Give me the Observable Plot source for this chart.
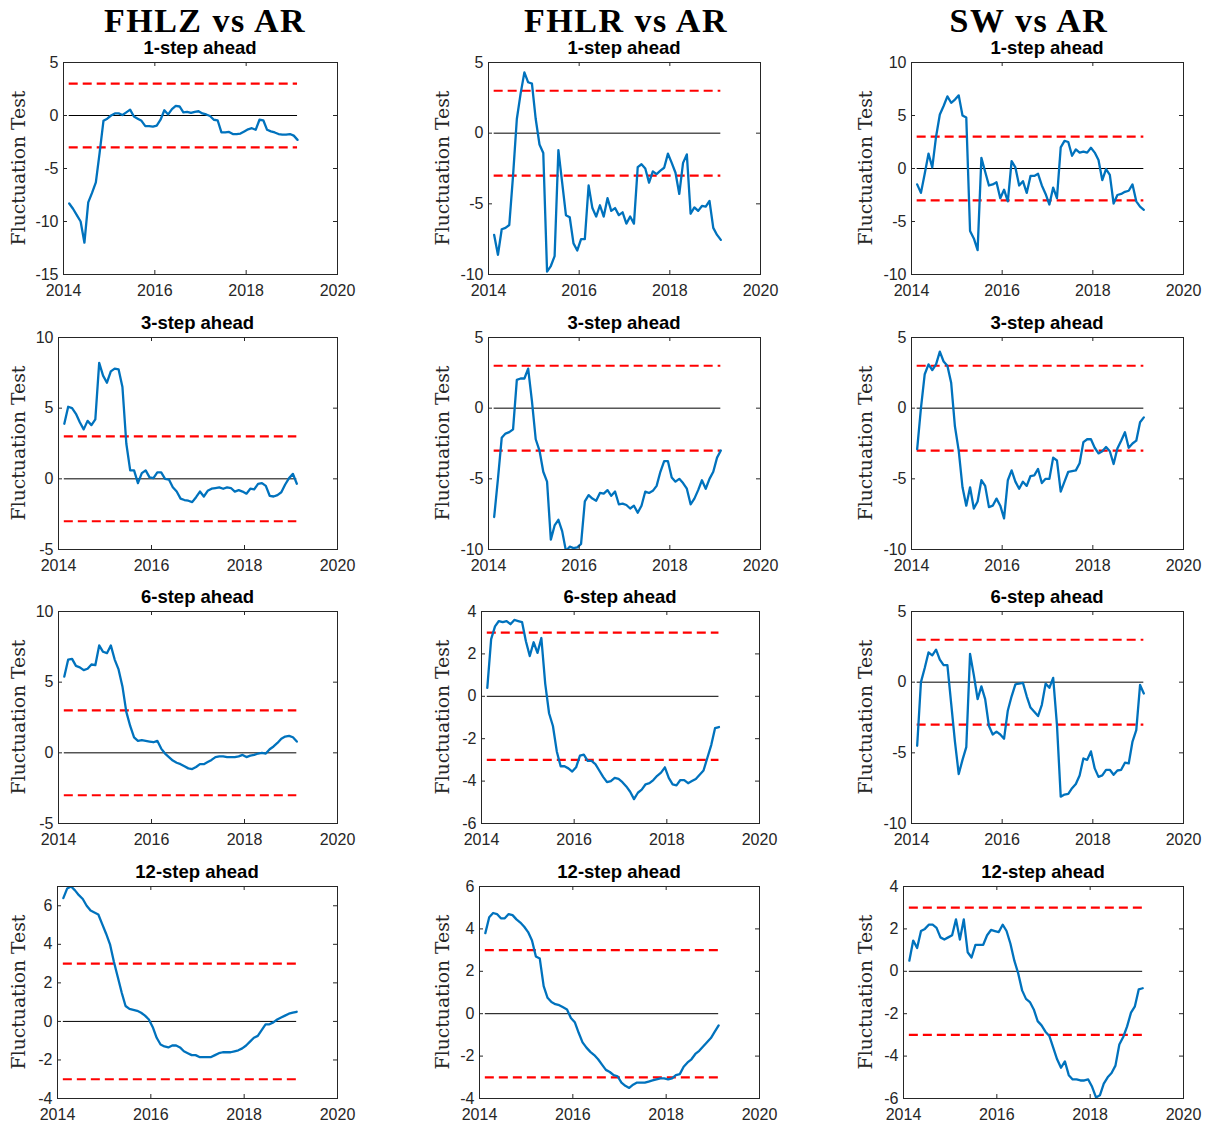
<!DOCTYPE html>
<html><head><meta charset="utf-8">
<script src="https://cdn.jsdelivr.net/npm/d3@7"></script>
<script src="https://cdn.jsdelivr.net/npm/@observablehq/plot@0.6"></script>
<style>
body{margin:0;background:#fff;}
#fig{position:relative;width:1207px;height:1125px;overflow:hidden;background:#fff;}
.hdr{position:absolute;font-family:"Liberation Serif","Times New Roman",serif;font-weight:bold;font-size:34px;letter-spacing:1.5px;transform:translate(-50%,-50%);white-space:nowrap;color:#000;line-height:1;}
.ttl{position:absolute;font-family:"Liberation Sans",Arial,sans-serif;font-weight:bold;font-size:18.5px;transform:translate(-50%,-50%);white-space:nowrap;color:#000;line-height:1;}
.ylab{position:absolute;font-family:"DejaVu Serif",serif;font-size:18.8px;transform:translate(-50%,-50%) rotate(-90deg);white-space:nowrap;color:#262626;line-height:1;}
.panel{position:absolute;}
</style></head><body><div id="fig"></div><script>
// ---- data ----
const columns = ["FHLZ vs AR", "FHLR vs AR", "SW vs AR"];
const horizons = ["1-step ahead", "3-step ahead", "6-step ahead", "12-step ahead"];
const startYear = 2014.125; // monthly observations
const xTicks = [2014, 2016, 2018, 2020];
const critical = [-3, 3];

const fhlz1 = [-8.3,-8.8,-9.4,-10.0,-12.0,-8.2,-7.3,-6.3,-3.5,-0.5, -0.3,0.0,0.2,0.2,0.05,0.3,0.55,-0.1,-0.3,-0.5, -1.0,-1.0,-1.05,-0.95,-0.4,0.5,0.1,0.6,0.9,0.85, 0.3,0.35,0.25,0.35,0.4,0.2,0.1,-0.05,-0.4,-0.45, -1.6,-1.6,-1.55,-1.75,-1.75,-1.7,-1.5,-1.3,-1.2,-1.35, -0.4,-0.45,-1.35,-1.5,-1.6,-1.75,-1.8,-1.8,-1.75,-1.9, -2.3];
const fhlr1 = [-7.2,-8.6,-6.8,-6.7,-6.5,-3.0,1.0,2.8,4.3,3.6, 3.5,1.0,-0.8,-1.4,-9.8,-9.4,-8.7,-1.2,-3.5,-5.8, -5.95,-7.8,-8.3,-7.5,-7.5,-3.7,-5.3,-5.9,-5.1,-5.9, -4.6,-5.5,-5.3,-5.8,-5.6,-6.4,-5.9,-6.4,-2.4,-2.2, -2.5,-3.5,-2.7,-2.9,-2.65,-2.45,-1.45,-2.1,-2.8,-4.3, -2.1,-1.5,-5.7,-5.25,-5.5,-5.15,-5.2,-4.8,-6.7,-7.2, -7.55];
const sw1 = [-1.5,-2.3,-0.5,1.4,0.1,3.0,5.1,5.9,6.8,6.2, 6.5,6.9,5.0,4.8,-5.9,-6.6,-7.7,1.0,-0.3,-1.6, -1.5,-1.3,-2.8,-2.0,-3.1,0.7,0.1,-1.6,-1.2,-2.3, -0.7,-0.7,-0.5,-1.6,-2.4,-3.4,-1.8,-2.8,2.0,2.6, 2.5,1.2,1.8,1.5,1.6,1.5,1.95,1.5,0.8,-1.1, -0.05,-0.6,-3.3,-2.5,-2.4,-2.2,-2.1,-1.5,-3.1,-3.6, -3.9];
const fhlz3 = [3.9,5.1,5.0,4.6,4.0,3.5,4.1,3.8,4.2,8.2, 7.3,6.8,7.6,7.8,7.75,6.5,2.5,0.6,0.6,-0.3, 0.4,0.6,0.1,0.05,0.45,0.45,0.0,-0.05,-0.6,-0.9, -1.4,-1.5,-1.55,-1.65,-1.3,-0.9,-1.25,-0.85,-0.7,-0.65, -0.6,-0.7,-0.6,-0.65,-0.9,-0.8,-0.9,-1.05,-0.7,-0.75, -0.35,-0.3,-0.5,-1.2,-1.25,-1.15,-0.95,-0.4,0.05,0.35, -0.35];
const fhlr3 = [-7.7,-5.0,-2.1,-1.8,-1.7,-1.5,2.0,2.1,2.1,2.8, 0.5,-2.2,-3.0,-4.5,-5.2,-9.3,-8.3,-7.9,-8.7,-10.1, -9.8,-9.9,-9.85,-9.6,-6.6,-6.15,-6.4,-6.55,-6.0,-6.05, -5.8,-6.2,-5.9,-6.8,-6.75,-6.85,-7.1,-6.9,-7.4,-6.9, -5.9,-6.0,-5.85,-5.5,-4.5,-3.75,-3.75,-4.9,-5.2,-5.0, -5.3,-5.7,-6.8,-6.4,-5.8,-5.1,-5.7,-5.0,-4.5,-3.5, -3.0];
const sw3 = [-2.9,0.0,2.4,3.1,2.7,3.1,4.0,3.3,3.0,1.8, -1.3,-3.0,-5.6,-6.9,-5.6,-7.1,-6.6,-5.1,-5.5,-7.0, -6.9,-6.4,-6.9,-7.8,-5.1,-4.4,-5.2,-5.7,-5.2,-5.5, -4.8,-4.75,-4.3,-5.3,-5.0,-5.0,-3.5,-3.7,-5.9,-5.2, -4.5,-4.45,-4.4,-3.9,-2.4,-2.2,-2.2,-2.8,-3.2,-3.05, -2.75,-3.05,-3.95,-2.85,-2.3,-1.7,-2.8,-2.5,-2.3,-1.0, -0.65];
const fhlz6 = [5.4,6.6,6.65,6.15,6.05,5.85,5.95,6.25,6.2,7.6, 7.15,7.05,7.6,6.6,5.9,4.7,2.9,1.9,1.1,0.85, 0.9,0.85,0.8,0.75,0.85,0.3,-0.05,-0.3,-0.55,-0.7, -0.8,-0.95,-1.1,-1.15,-1.0,-0.8,-0.8,-0.65,-0.5,-0.3, -0.25,-0.25,-0.3,-0.3,-0.3,-0.25,-0.15,-0.3,-0.2,-0.15, -0.05,0.0,-0.05,0.25,0.45,0.7,1.0,1.15,1.2,1.1, 0.8];
const fhlr6 = [0.4,2.7,3.3,3.55,3.5,3.55,3.4,3.6,3.55,3.5, 2.6,1.9,2.55,2.05,2.75,0.6,-0.8,-1.4,-2.6,-3.3, -3.3,-3.4,-3.55,-3.35,-2.8,-2.75,-3.05,-3.05,-3.2,-3.5, -3.8,-4.05,-4.0,-3.85,-3.9,-4.05,-4.25,-4.5,-4.85,-4.55, -4.4,-4.15,-4.1,-3.95,-3.75,-3.6,-3.35,-3.85,-4.15,-4.2, -3.95,-3.95,-4.1,-4.0,-3.9,-3.7,-3.5,-2.9,-2.3,-1.5, -1.45];
const sw6 = [-4.5,0.0,1.0,2.1,1.9,2.3,1.6,1.2,1.2,-1.5, -4.2,-6.5,-5.5,-4.6,2.0,0.5,-1.2,-0.3,-1.2,-3.1, -3.7,-3.5,-3.7,-4.0,-2.0,-1.0,-0.15,-0.1,-0.05,-1.0, -1.8,-2.1,-2.4,-1.6,-0.1,-0.4,0.3,-3.0,-8.1,-7.95, -7.9,-7.5,-7.2,-6.6,-5.4,-5.5,-4.9,-6.1,-6.7,-6.6, -6.2,-6.2,-6.55,-6.25,-6.2,-5.7,-5.75,-4.2,-3.4,-0.2, -0.8];
const fhlz12 = [6.4,6.9,7.0,6.8,6.55,6.35,6.0,5.75,5.65,5.55, 5.05,4.55,4.0,3.1,2.3,1.5,0.8,0.65,0.6,0.55, 0.45,0.3,0.1,-0.3,-0.85,-1.2,-1.3,-1.35,-1.25,-1.25, -1.35,-1.55,-1.65,-1.75,-1.75,-1.85,-1.85,-1.85,-1.85,-1.75, -1.65,-1.6,-1.6,-1.6,-1.55,-1.5,-1.4,-1.25,-1.05,-0.85, -0.75,-0.45,-0.15,-0.15,-0.05,0.1,0.2,0.3,0.4,0.45, 0.5];
const fhlr12 = [3.8,4.55,4.75,4.7,4.5,4.5,4.7,4.65,4.45,4.3, 4.1,3.85,3.45,2.7,2.6,1.3,0.75,0.55,0.45,0.4, 0.3,0.2,-0.2,-0.4,-0.9,-1.35,-1.6,-1.8,-1.95,-2.15, -2.4,-2.65,-2.75,-2.9,-2.95,-3.25,-3.4,-3.5,-3.35,-3.25, -3.25,-3.25,-3.2,-3.15,-3.1,-3.05,-3.05,-3.1,-3.05,-2.9, -2.85,-2.5,-2.3,-2.15,-1.9,-1.75,-1.55,-1.35,-1.15,-0.85, -0.55];
const sw12 = [0.5,1.45,1.1,1.9,2.0,2.2,2.2,2.05,1.6,1.5, 1.6,1.7,2.45,1.5,2.45,0.9,0.65,1.25,1.25,1.25, 1.7,1.95,1.9,1.85,2.2,1.9,1.3,0.5,-0.1,-0.9, -1.3,-1.45,-1.8,-2.35,-2.55,-2.85,-3.05,-3.6,-4.15,-4.55, -4.25,-4.9,-5.1,-5.1,-5.15,-5.15,-5.1,-5.45,-5.95,-5.85, -5.3,-5.0,-4.8,-4.45,-3.45,-3.1,-2.6,-1.95,-1.65,-0.85, -0.8];

const yDomains = [[-15,5],[-10,5],[-10,10],[-5,10],[-10,5],[-10,5],[-5,10],[-6,4],[-10,5],[-4,7],[-4,6],[-6,4]];
const yTickSets = [[-15,-10,-5,0,5],[-10,-5,0,5],[-10,-5,0,5,10],[-5,0,5,10],[-10,-5,0,5],[-10,-5,0,5],[-5,0,5,10],[-6,-4,-2,0,2,4],[-10,-5,0,5],[-4,-2,0,2,4,6],[-4,-2,0,2,4,6],[-6,-4,-2,0,2,4]];
const series = [fhlz1, fhlr1, sw1, fhlz3, fhlr3, sw3, fhlz6, fhlr6, sw6, fhlz12, fhlr12, sw12];

// ---- layout (frame left, right, top, bottom in page px) ----
const frames = [
  [63,337,62,274],[488,760,62,274],[911,1183,62,274],
  [58,337,337,549],[488,760,337,549],[911,1183,337,549],
  [58,337,611,823],[481,759,611,823],[911,1183,611,823],
  [57,337,886,1098],[479,759,886,1098],[903,1183,886,1098]];
const headerPos = [[205,21],[626,21],[1029,21]];
const ylabX = [19, 443, 866];

const fig = document.getElementById("fig");
const months = series[0].map((_, i) => startYear + i / 12);
const x0 = months[0], x1 = months[months.length - 1];

function addDiv(cls, text, x, y) {
  const d = document.createElement("div");
  d.className = cls; d.textContent = text;
  d.style.left = x + "px"; d.style.top = y + "px";
  fig.appendChild(d);
}

columns.forEach((c, j) => addDiv("hdr", c, headerPos[j][0], headerPos[j][1]));

const ml = 60, mr = 20, mt = 10, mb = 34, tl = 4;
series.forEach((vals, k) => {
  const [L, R, T, B] = frames[k];
  const W = R - L, H = B - T;
  const row = Math.floor(k / 3), col = k % 3;
  const yt = yTickSets[k];
  const chart = Plot.plot({
    width: W + ml + mr, height: H + mt + mb,
    marginLeft: ml, marginRight: mr, marginTop: mt, marginBottom: mb,
    style: {fontFamily: "'Liberation Sans', Arial, sans-serif", fontSize: "16px", color: "#262626", background: "none", overflow: "visible"},
    x: {domain: [2014, 2020]},
    y: {domain: yDomains[k]},
    marks: [
      Plot.ruleY([0], {x1: x0, x2: x1, stroke: "#000", strokeWidth: 1}),
      Plot.ruleY(critical, {x1: x0, x2: x1, stroke: "#FF0000", strokeWidth: 2.2, strokeDasharray: "9,5"}),
      Plot.line(vals, {x: months, y: vals, stroke: "#0072BD", strokeWidth: 2.3, clip: true}),
      Plot.frame({stroke: "#262626", strokeWidth: 1}),
      Plot.ruleX(xTicks, {x: d => d, insetTop: H - tl, stroke: "#262626"}),
      Plot.ruleX(xTicks, {x: d => d, insetBottom: H - tl, stroke: "#262626"}),
      Plot.ruleY(yt, {y: d => d, insetRight: W - tl, stroke: "#262626"}),
      Plot.ruleY(yt, {y: d => d, insetLeft: W - tl, stroke: "#262626"}),
      Plot.axisX(xTicks, {anchor: "bottom", tickSize: 0, tickPadding: 10, tickFormat: d => String(d), label: null}),
      Plot.axisY(yt, {anchor: "left", tickSize: 0, tickPadding: 5, tickFormat: d => String(d), label: null})
    ]
  });
  chart.classList.add("panel");
  chart.style.left = (L - ml) + "px";
  chart.style.top = (T - mt) + "px";
  fig.appendChild(chart);
  addDiv("ttl", horizons[row], (L + R) / 2, T - 14);
  addDiv("ylab", "Fluctuation Test", ylabX[col], (T + B) / 2);
});
</script></body></html>
